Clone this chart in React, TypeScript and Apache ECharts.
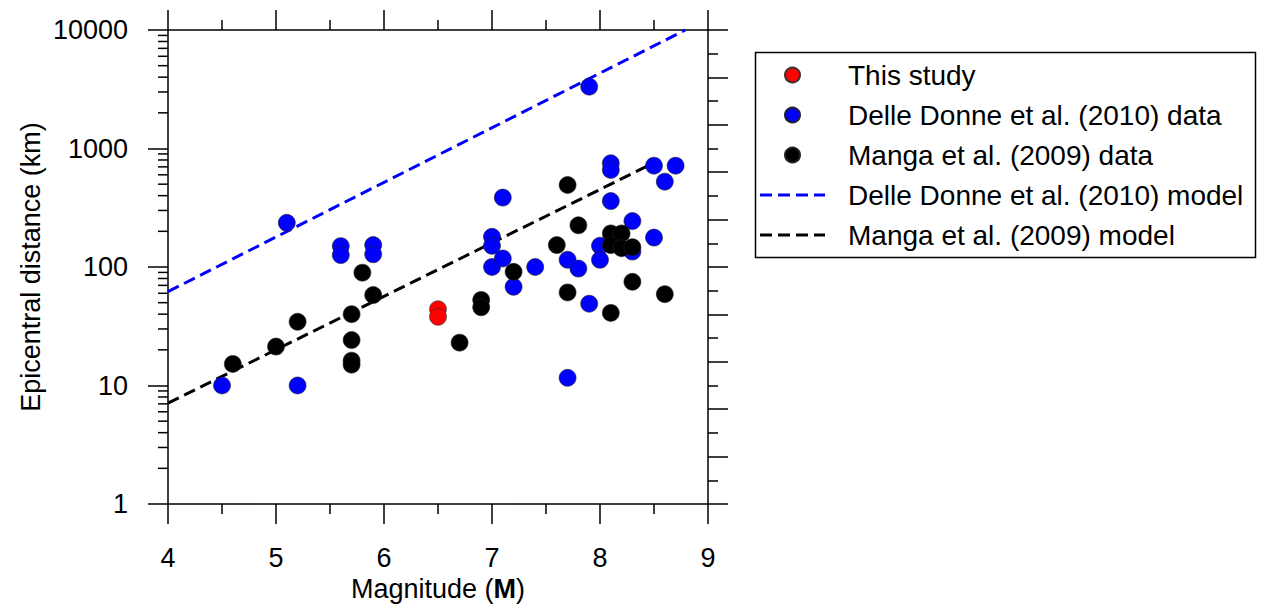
import React, { useEffect, useRef } from "react";
import * as echarts from "echarts";

// ---- Data ----
const thisStudyMag = [6.5, 6.5];
const thisStudyDist = [44, 38];

const delleDonneMag = [4.5, 5.1, 5.2, 5.6, 5.6, 5.9, 5.9, 7.0, 7.0, 7.0, 7.1, 7.1, 7.2, 7.4, 7.7, 7.7, 7.8, 7.9, 7.9, 8.0, 8.0, 8.1, 8.1, 8.1, 8.3, 8.3, 8.5, 8.5, 8.6, 8.7];
const delleDonneDist = [10, 236, 10, 150, 126, 153, 128, 180, 151, 100, 385, 118, 68, 100, 115, 11.6, 97, 3325, 49, 151, 115, 750, 659, 360, 244, 135, 716, 177, 525, 716];

const mangaMag = [4.6, 5.0, 5.2, 5.7, 5.7, 5.7, 5.7, 5.8, 5.9, 6.7, 6.9, 6.9, 7.2, 7.6, 7.7, 7.7, 7.8, 8.1, 8.2, 8.1, 8.2, 8.3, 8.1, 8.3, 8.6];
const mangaDist = [15.2, 21.3, 34.5, 40, 24.2, 16.2, 15, 89.5, 58, 23, 52.7, 45.7, 91, 153, 492, 61, 225, 192, 192, 153, 144, 147, 41, 75, 59];

const delleDonneModelMag = [4, 8.79];
const delleDonneModelDist = [62, 10000];
const mangaModelMag = [4, 8.45];
const mangaModelDist = [7.1, 720];

const xMin = 4;
const xMax = 9;
const yMin = 1;
const yMax = 10000;
const yDecades = [1, 10, 100, 1000];
const yMinorMultipliers = [2, 3, 4, 5, 6, 7, 8, 9];

const names = [
  "This study",
  "Delle Donne et al. (2010) data",
  "Manga et al. (2009) data",
  "Delle Donne et al. (2010) model",
  "Manga et al. (2009) model",
];

const FONT = "'Liberation Sans', Arial, Helvetica, sans-serif";
const AX = "#000";
const DASH_ICON = "path://M0 0H12V3H0Z M18 0H30V3H18Z M36 0H48V3H36Z M54 0H65V3H54Z";

const zip = (a: number[], b: number[]) => a.map((v, i) => [v, b[i]]);

export default function App() {
  const ref = useRef<HTMLDivElement>(null);
  useEffect(() => {
    const chart = echarts.init(ref.current!, null, { renderer: "svg" });

    const minorTickData: number[][] = [];
    yDecades.forEach((d) => yMinorMultipliers.forEach((m) => minorTickData.push([xMin, d * m])));

    const axisLineStyle = { color: AX, width: 1.5 };
    const option: any = {
      animation: false,
      backgroundColor: "#fff",
      textStyle: { fontFamily: FONT },
      grid: { left: 168, top: 30, width: 540, height: 474, containLabel: false },
      xAxis: [
        {
          type: "value",
          min: xMin,
          max: xMax,
          interval: 1,
          position: "bottom",
          name: "Magnitude ({b|M})",
          nameLocation: "middle",
          nameGap: 64,
          nameTextStyle: {
            fontSize: 27,
            color: "#000",
            fontFamily: FONT,
            rich: { b: { fontSize: 27, fontWeight: "bold", color: "#000", fontFamily: FONT } },
          },
          axisLine: { show: true, lineStyle: axisLineStyle },
          axisTick: { show: true, inside: false, length: 20, lineStyle: axisLineStyle },
          minorTick: { show: true, splitNumber: 2, length: 10, lineStyle: axisLineStyle },
          axisLabel: { show: true, fontSize: 27, color: "#000", margin: 40, fontFamily: FONT, formatter: (v: number) => String(Math.round(v)) },
          splitLine: { show: false },
          minorSplitLine: { show: false },
        },
        {
          type: "value",
          min: xMin,
          max: xMax,
          interval: 1,
          position: "top",
          axisLine: { show: true, lineStyle: axisLineStyle },
          axisTick: { show: true, inside: false, length: 20, lineStyle: axisLineStyle },
          minorTick: { show: true, splitNumber: 2, length: 10, lineStyle: axisLineStyle },
          axisLabel: { show: false },
          splitLine: { show: false },
        },
      ],
      yAxis: [
        {
          type: "log",
          logBase: 10,
          min: yMin,
          max: yMax,
          position: "left",
          name: "Epicentral distance (km)",
          nameLocation: "middle",
          nameRotate: 90,
          nameGap: 124,
          nameTextStyle: { fontSize: 27, color: "#000", fontFamily: FONT },
          axisLine: { show: true, lineStyle: axisLineStyle },
          axisTick: { show: true, inside: false, length: 20, lineStyle: axisLineStyle },
          axisLabel: { show: true, fontSize: 27, color: "#000", margin: 40, fontFamily: FONT, formatter: (v: number) => String(Math.round(v)) },
          splitLine: { show: false },
        },
        {
          type: "value",
          min: 0,
          max: 10,
          interval: 1,
          position: "right",
          axisLine: { show: true, lineStyle: axisLineStyle },
          axisTick: { show: true, inside: false, length: 20, lineStyle: axisLineStyle },
          minorTick: { show: true, splitNumber: 2, length: 10, lineStyle: axisLineStyle },
          axisLabel: { show: false },
          splitLine: { show: false },
        },
      ],
      legend: {
        data: [
          { name: names[0] },
          { name: names[1] },
          { name: names[2] },
          { name: names[3], icon: DASH_ICON },
          { name: names[4], icon: DASH_ICON },
        ],
        orient: "vertical",
        left: 760,
        top: 60,
        padding: 0,
        itemGap: 10,
        itemWidth: 65,
        itemHeight: 15,
        selectedMode: false,
        textStyle: { fontSize: 28, color: "#000", fontFamily: FONT, lineHeight: 30, padding: [0, 0, 0, 18] },
      },
      graphic: [
        {
          type: "rect",
          shape: { x: 755.5, y: 52.5, width: 500, height: 205 },
          style: { fill: "none", stroke: "#000", lineWidth: 1.5 },
          silent: true,
        },
      ],
      series: [
        {
          type: "custom",
          name: "ytickminor",
          xAxisIndex: 0,
          yAxisIndex: 0,
          silent: true,
          clip: false,
          data: minorTickData,
          renderItem: (params: any, api: any) => {
            const p = api.coord([api.value(0), api.value(1)]);
            return {
              type: "line",
              shape: { x1: p[0] - 10, y1: p[1], x2: p[0], y2: p[1] },
              style: { stroke: AX, lineWidth: 1.5 },
            };
          },
        },
        {
          type: "line",
          name: names[3],
          data: zip(delleDonneModelMag, delleDonneModelDist),
          symbol: "none",
          lineStyle: { color: "#0000ff", width: 3, type: [12, 6] },
          itemStyle: { color: "#0000ff", borderWidth: 0 },
          z: 2,
        },
        {
          type: "line",
          name: names[4],
          data: zip(mangaModelMag, mangaModelDist),
          symbol: "none",
          lineStyle: { color: "#000", width: 3, type: [12, 6] },
          itemStyle: { color: "#000", borderWidth: 0 },
          z: 2,
        },
        {
          type: "scatter",
          name: names[1],
          data: zip(delleDonneMag, delleDonneDist),
          symbol: "circle",
          symbolSize: 17,
          itemStyle: { color: "#0000ff", borderColor: "#222", borderWidth: 0.6, opacity: 1 },
          z: 3,
        },
        {
          type: "scatter",
          name: names[2],
          data: zip(mangaMag, mangaDist),
          symbol: "circle",
          symbolSize: 17,
          itemStyle: { color: "#000", borderColor: "#222", borderWidth: 0.6, opacity: 1 },
          z: 4,
        },
        {
          type: "scatter",
          name: names[0],
          data: zip(thisStudyMag, thisStudyDist),
          symbol: "circle",
          symbolSize: 17,
          itemStyle: { color: "#ff0000", borderColor: "#333", borderWidth: 0.6, opacity: 1 },
          z: 5,
        },
      ],
    };

    chart.setOption(option);
    return () => chart.dispose();
  }, []);

  return (
    <div
      ref={ref}
      style={{ position: "fixed", left: 0, top: 0, width: 1262, height: 609, background: "#fff" }}
    />
  );
}
